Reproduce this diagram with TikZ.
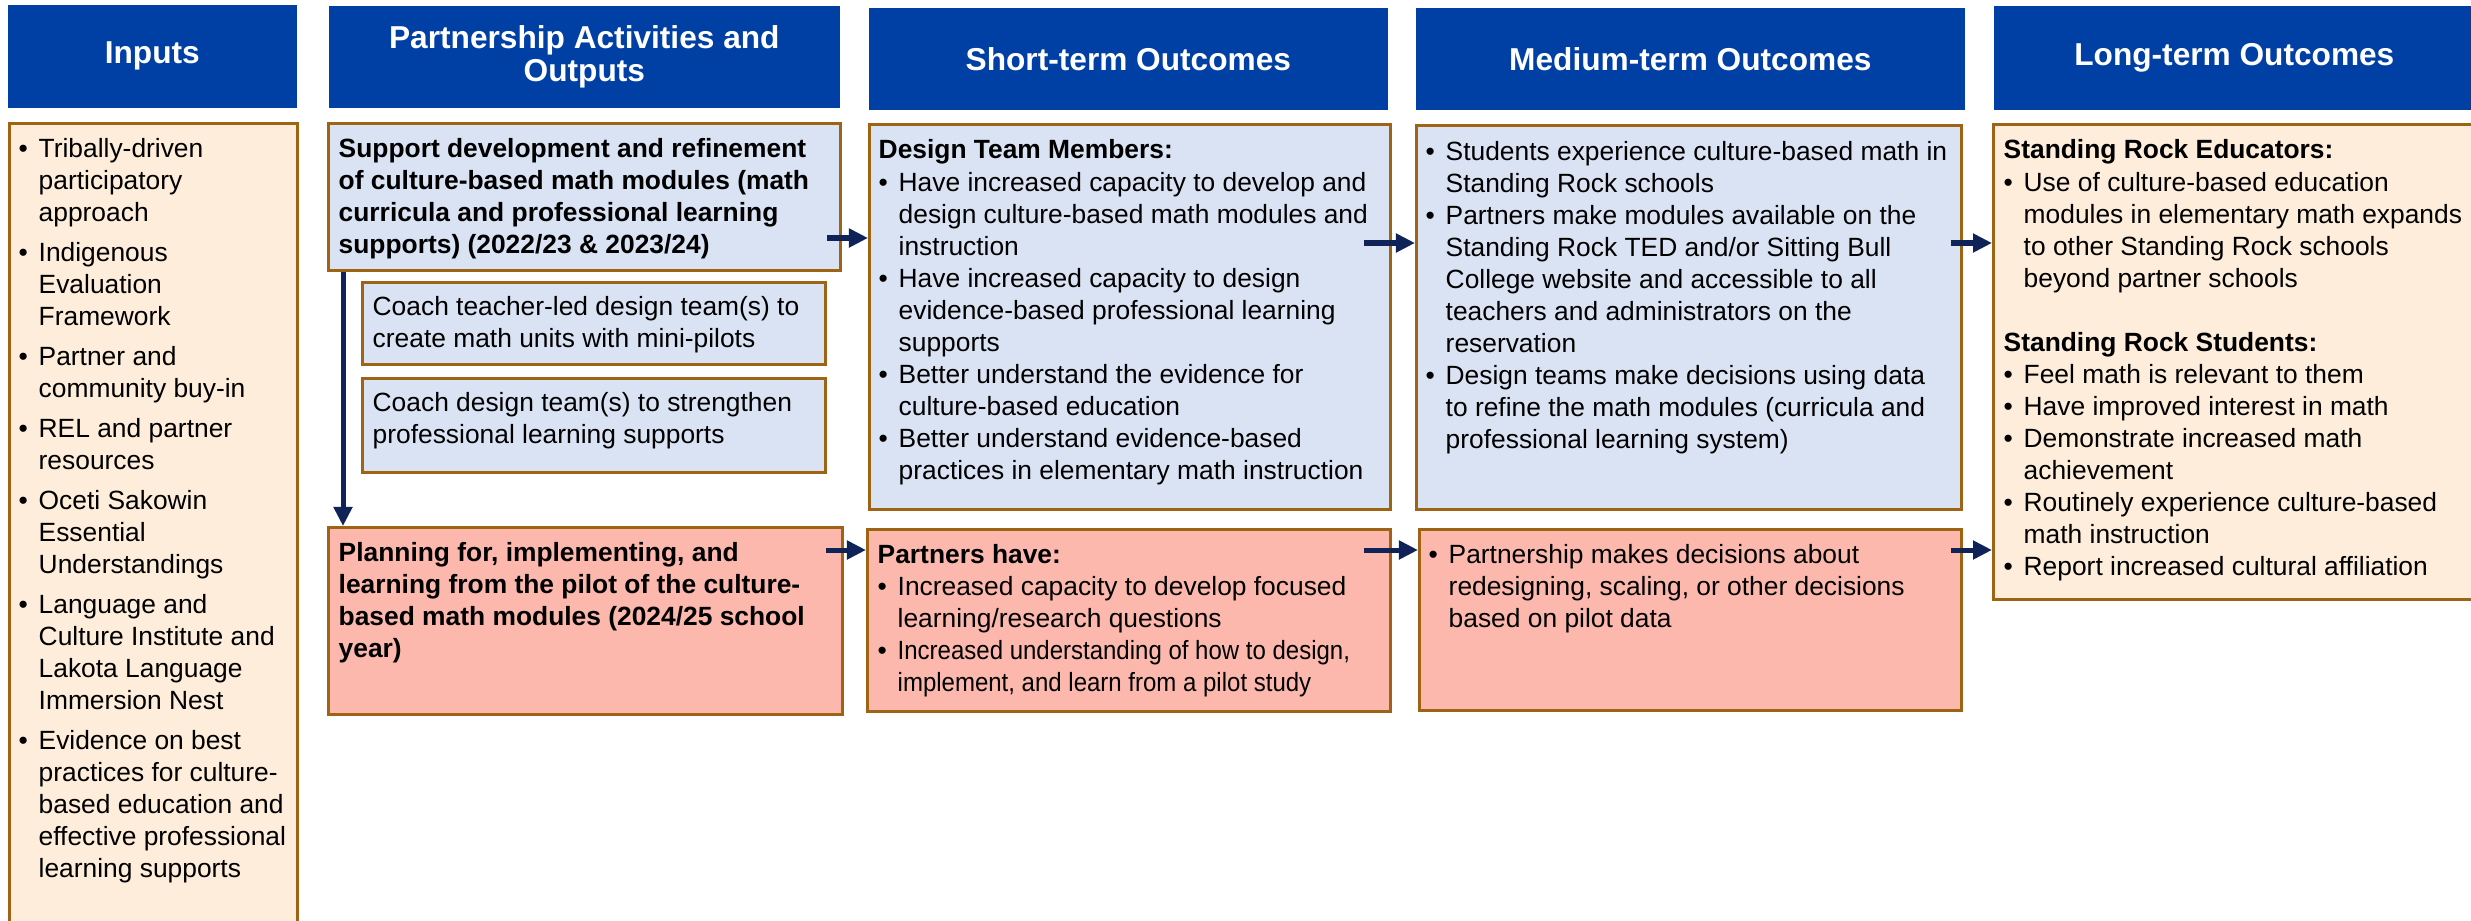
\documentclass[tikz,border=0pt]{standalone}
\usepackage{fontspec}
\setmainfont{Liberation Sans}
\usepackage{graphicx}
\usetikzlibrary{arrows.meta,calc}

\definecolor{hdrblue}{HTML}{0040A5}
\definecolor{boxblue}{HTML}{DAE3F3}
\definecolor{boxpink}{HTML}{FCB8AD}
\definecolor{boxcream}{HTML}{FDEDDA}
\definecolor{bord}{HTML}{9E6414}
\definecolor{navy}{HTML}{102358}

% top-aligned text block whose baseline is that of its first line
\newcommand\txtblock[2]{\vtop{\hsize=#1\parindent=0pt\parskip=0pt\raggedright
  \fontsize{7.5}{9.1}\selectfont #2}}
% bullet item with hanging indent
\newcommand\bul{\hangindent=0.2cm\hangafter=1\noindent\makebox[0.2cm][l]{\textbullet}}
% horizontally condensed line
\newcommand\cnd[1]{\scalebox{0.91}[1]{#1}}

\tikzset{
  hdr/.style={fill=hdrblue, text=white, anchor=north west, inner sep=0pt,
    align=center, font=\fontsize{9}{9.4}\selectfont\bfseries},
  bx/.style={draw=bord, line width=0.03cm, anchor=north west, inner sep=0pt},
  bluebox/.style={bx, fill=boxblue},
  pinkbox/.style={bx, fill=boxpink},
  creambox/.style={bx, fill=boxcream},
  tx/.style={anchor=base west, inner sep=0pt, text=black},
  arr/.style={draw=navy, line width=0.05cm, -{Triangle[length=0.19cm,width=0.18cm]}}
}

\begin{document}
\begin{tikzpicture}[x=0.01cm, y=-0.01cm]
\useasboundingbox (0,0) rectangle (2471,921);
\fill[white] (0,0) rectangle (2471,921);
\clip (0,0) rectangle (2471,921);

% column headers
\node[hdr, minimum width=2.89cm, minimum height=1.03cm] (hIn) at (7,4) {Inputs};
\node[hdr, minimum width=5.11cm, minimum height=1.02cm] (hPa) at (328,5) {Partnership Activities and\\Outputs};
\node[hdr, minimum width=5.19cm, minimum height=1.02cm] (hSh) at (868,7) {Short-term Outcomes};
\node[hdr, minimum width=5.49cm, minimum height=1.02cm] (hMe) at (1415,7) {Medium-term Outcomes};
\node[hdr, minimum width=4.78cm, minimum height=1.04cm] (hLo) at (1993,5) {\hspace*{0.03cm}Long-term Outcomes};

% boxes
\node[creambox, minimum width=2.88cm, minimum height=8.2cm] (inp) at (8,122) {};
\node[bluebox, minimum width=5.12cm, minimum height=1.47cm] (ptop) at (327,122) {};
\node[bluebox, minimum width=4.63cm, minimum height=0.82cm] (c1) at (361,281) {};
\node[bluebox, minimum width=4.63cm, minimum height=0.94cm] (c2) at (361,377) {};
\node[pinkbox, minimum width=5.14cm, minimum height=1.87cm] (ppink) at (327,526) {};
\node[bluebox, minimum width=5.21cm, minimum height=3.85cm] (sblue) at (868,123) {};
\node[pinkbox, minimum width=5.23cm, minimum height=1.82cm] (spink) at (866,528) {};
\node[bluebox, minimum width=5.45cm, minimum height=3.84cm] (mblue) at (1415,124) {};
\node[pinkbox, minimum width=5.42cm, minimum height=1.81cm] (mpink) at (1418,528) {};
\node[creambox, minimum width=5.0cm, minimum height=4.75cm] (lbox) at (1992,123) {};

% connectors
\coordinate (rowA) at (0,238);
\coordinate (rowB) at (0,243);
\coordinate (rowC) at (0,550);
\coordinate (colV) at (343,0);
\draw[arr] ($(ptop.east |- rowA)+(-15,0)$) -- (sblue.west |- rowA);
\draw[arr] ($(sblue.east |- rowB)+(-28,0)$) -- (mblue.west |- rowB);
\draw[arr] ($(mblue.east |- rowB)+(-12,0)$) -- (lbox.west |- rowB);
\draw[arr] ($(ppink.east |- rowC)+(-18,0)$) -- (spink.west |- rowC);
\draw[arr] ($(spink.east |- rowC)+(-28,0)$) -- (mpink.west |- rowC);
\draw[arr] ($(mpink.east |- rowC)+(-12,0)$) -- (lbox.west |- rowC);
\draw[arr] (ptop.south -| colV) -- (ppink.north -| colV);

% texts
\node[tx] (inp-t) at ($(inp.north west)+(10,35)$) {\txtblock{2.8cm}{\parskip=0.08cm
\bul Tribally-driven\newline participatory\newline approach\par
\bul Indigenous\newline Evaluation\newline Framework\par
\bul Partner and\newline community buy-in\par
\bul REL and partner\newline resources\par
\bul Oceti Sakowin\newline Essential\newline Understandings\par
\bul Language and\newline Culture Institute and\newline Lakota Language\newline Immersion Nest\par
\bul Evidence on best\newline practices for culture-\newline based education and\newline effective professional\newline learning supports\par}};

\node[tx] (ptop-t) at ($(ptop.north west)+(11,35)$) {\txtblock{5.0cm}{\bfseries
Support development and refinement\newline of culture-based math modules (math\newline curricula and professional learning\newline supports) (2022/23 \& 2023/24)\par}};

\node[tx] (c1-t) at ($(c1.north west)+(11,34)$) {\txtblock{4.5cm}{%
Coach teacher-led design team(s) to\newline create math units with mini-pilots\par}};

\node[tx] (c2-t) at ($(c2.north west)+(11,34)$) {\txtblock{4.5cm}{%
Coach design team(s) to strengthen\newline professional learning supports\par}};

\node[tx] (ppink-t) at ($(ppink.north west)+(11,35)$) {\txtblock{5.0cm}{\bfseries
Planning for, implementing, and\newline learning from the pilot of the culture-\newline based math modules (2024/25 school\newline year)\par}};

\node[tx] (sblue-t) at ($(sblue.north west)+(10,36)$) {\txtblock{5.1cm}{%
{\bfseries Design Team Members:}\par
\bul Have increased capacity to develop and\newline design culture-based math modules and\newline instruction\par
\bul Have increased capacity to design\newline evidence-based professional learning\newline supports\par
\bul Better understand the evidence for\newline culture-based education\par
\bul Better understand evidence-based\newline practices in elementary math instruction\par}};

\node[tx] (spink-t) at ($(spink.north west)+(11,35)$) {\txtblock{5.1cm}{%
{\bfseries Partners have:}\par
\bul Increased capacity to develop focused\newline learning/research questions\par
\bul \cnd{Increased understanding of how to design,}\newline \cnd{implement, and learn from a pilot study}\par}};

\node[tx] (mblue-t) at ($(mblue.north west)+(10,36)$) {\txtblock{5.35cm}{%
\bul Students experience culture-based math in\newline Standing Rock schools\par
\bul Partners make modules available on the\newline Standing Rock TED and/or Sitting Bull\newline College website and accessible to all\newline teachers and administrators on the\newline reservation\par
\bul Design teams make decisions using data\newline to refine the math modules (curricula and\newline professional learning system)\par}};

\node[tx] (mpink-t) at ($(mpink.north west)+(10,35)$) {\txtblock{5.3cm}{%
\bul Partnership makes decisions about\newline redesigning, scaling, or other decisions\newline based on pilot data\par}};

\node[tx] (lbox-t) at ($(lbox.north west)+(11,36)$) {\txtblock{4.7cm}{%
{\bfseries Standing Rock Educators:}\par
\bul Use of culture-based education\newline modules in elementary math expands\newline to other Standing Rock schools\newline beyond partner schools\par
\vskip 0.32cm
{\bfseries Standing Rock Students:}\par
\bul Feel math is relevant to them\par
\bul Have improved interest in math\par
\bul Demonstrate increased math\newline achievement\par
\bul Routinely experience culture-based\newline math instruction\par
\bul Report increased cultural affiliation\par}};
\end{tikzpicture}
\end{document}
